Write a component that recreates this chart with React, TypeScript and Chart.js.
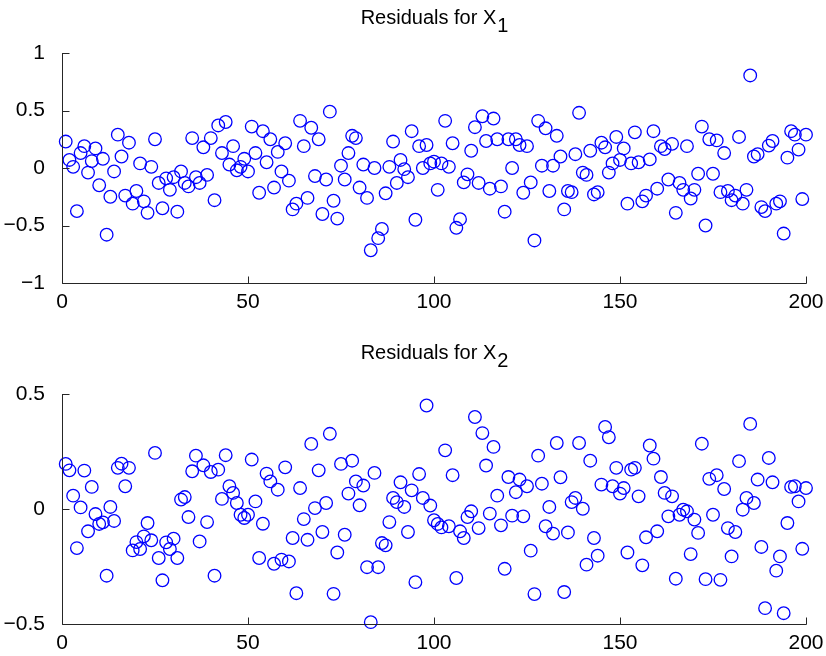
import React, { useEffect, useRef } from "react";
import { Chart, registerables } from "chart.js";
Chart.register(...registerables);

// Observation indices 1..200
const observationIndex: number[] = Array.from({ length: 200 }, (_, i) => i + 1);

const residualsX1: number[] = [
  0.23, 0.07, 0.01, -0.375, 0.13, 0.19, -0.04, 0.06, 0.17, -0.15,
  0.08, -0.58, -0.25, -0.03, 0.29, 0.10, -0.24, 0.22, -0.31, -0.20,
  0.04, -0.29, -0.39, 0.01, 0.25, -0.13, -0.35, -0.09, -0.19, -0.08,
  -0.38, -0.03, -0.13, -0.16, 0.26, -0.08, -0.13, 0.18, -0.06, 0.26,
  -0.28, 0.37, 0.13, 0.40, 0.03, 0.19, -0.02, 0.01, 0.08, -0.03,
  0.36, 0.13, -0.215, 0.32, 0.05, 0.25, -0.17, 0.14, -0.03, 0.215,
  -0.11, -0.36, -0.31, 0.41, 0.19, -0.26, 0.35, -0.07, 0.25, -0.40,
  -0.10, 0.49, -0.285, -0.44, 0.02, -0.10, 0.13, 0.28, 0.26, -0.17,
  0.03, -0.26, -0.715, 0.0, -0.61, -0.53, -0.22, 0.01, 0.23, -0.13,
  0.07, -0.01, -0.08, 0.32, -0.45, 0.19, 0.0, 0.20, 0.04, 0.055,
  -0.19, 0.04, 0.41, 0.01, 0.215, -0.52, -0.445, -0.125, -0.055, 0.15,
  0.355, -0.13, 0.45, 0.235, -0.18, 0.43, 0.25, -0.16, -0.38, 0.25,
  0.0, 0.25, 0.2, -0.215, 0.19, -0.125, -0.63, 0.41, 0.02, 0.345,
  -0.2, 0.02, 0.28, 0.1, -0.36, -0.2, -0.21, 0.12, 0.48, -0.04,
  -0.06, 0.15, -0.23, -0.21, 0.22, 0.18, -0.04, 0.04, 0.27, 0.07,
  0.17, -0.31, 0.04, 0.31, 0.05, -0.29, -0.24, 0.075, 0.32, -0.18,
  0.19, 0.165, -0.10, 0.21, -0.39, -0.13, -0.19, 0.19, -0.265, -0.19,
  -0.05, 0.36, -0.50, 0.25, -0.05, 0.24, -0.21, 0.13, -0.2, -0.28,
  -0.24, 0.27, -0.31, -0.19, 0.805, 0.10, 0.12, -0.34, -0.375, 0.195,
  0.235, -0.31, -0.29, -0.57, 0.09, 0.32, 0.29, 0.16, -0.27, 0.29,
];

const residualsX2: number[] = [
  0.196, 0.168, 0.058, -0.17, 0.007, 0.167, -0.097, 0.096, -0.022, -0.065,
  -0.058, -0.29, 0.009, -0.052, 0.179, 0.197, 0.099, 0.179, -0.18, -0.144,
  -0.174, -0.119, -0.061, -0.136, 0.244, -0.213, -0.31, -0.145, -0.174, -0.129,
  -0.213, 0.041, 0.052, -0.035, 0.164, 0.232, -0.141, 0.19, -0.057, 0.161,
  -0.29, 0.171, 0.044, 0.234, 0.099, 0.07, 0.026, -0.025, -0.039, -0.025,
  0.215, 0.033, -0.213, -0.064, 0.154, 0.12, -0.238, 0.084, -0.22, 0.181,
  -0.228, -0.126, -0.366, 0.091, -0.044, -0.134, 0.283, 0.004, 0.168, -0.1,
  0.026, 0.327, -0.369, -0.189, 0.196, -0.112, 0.067, 0.21, 0.12, 0.016,
  0.102, -0.253, -0.492, 0.157, -0.253, -0.148, -0.158, -0.057, 0.048, 0.03,
  0.116, 0.009, -0.1, 0.081, -0.318, 0.152, 0.048, 0.45, 0.015, -0.049,
  -0.065, -0.08, 0.255, -0.075, 0.147, -0.30, -0.097, -0.126, -0.035, -0.01,
  0.40, -0.083, 0.33, 0.189, -0.02, 0.27, 0.058, -0.071, -0.26, 0.139,
  -0.029, 0.073, 0.128, -0.032, 0.099, -0.181, -0.37, 0.232, 0.11, -0.075,
  0.009, -0.107, 0.287, 0.138, -0.361, -0.102, 0.03, 0.048, 0.287, 0.001,
  -0.242, 0.21, -0.126, -0.203, 0.106, 0.357, 0.312, 0.099, 0.179, 0.067,
  0.091, -0.189, 0.171, 0.179, 0.055, -0.245, -0.123, 0.276, 0.219, -0.097,
  0.139, 0.07, -0.032, 0.055, -0.303, -0.025, -0.003, -0.01, -0.196, -0.046,
  -0.104, 0.284, -0.305, 0.131, -0.025, 0.147, -0.308, 0.087, -0.083, -0.206,
  -0.1, 0.208, -0.003, 0.048, 0.37, 0.026, 0.128, -0.165, -0.431, 0.222,
  0.116, -0.268, -0.206, -0.453, -0.061, 0.096, 0.099, 0.033, -0.173, 0.091,
];

const xTicks: number[] = [0, 50, 100, 150, 200];
const yTicksTop: number[] = [-1, -0.5, 0, 0.5, 1];
const yTicksBottom: number[] = [-0.5, 0, 0.5];

const FONT = "'Liberation Sans', Arial, Helvetica, sans-serif";
const AXIS_COLOR = "#262626";

const fmt = (v: number) => {
  const s = String(Math.abs(v));
  return v < 0 ? "\u2212" + s : s;
};

const matlabAxes = {
  id: "matlabAxes",
  afterDraw(chart: any, _args: any, opts: any) {
    const { ctx, chartArea: a, scales } = chart;
    const x = scales.x;
    const y = scales.y;
    ctx.save();
    ctx.strokeStyle = AXIS_COLOR;
    ctx.lineWidth = 1;
    ctx.beginPath();
    const L = Math.round(a.left) + 0.5;
    const B = Math.round(a.bottom) + 0.5;
    ctx.moveTo(L, Math.round(a.top));
    ctx.lineTo(L, B);
    ctx.lineTo(Math.round(a.right) + 0.5, B);
    x.ticks.forEach((t: any) => {
      const px = Math.round(x.getPixelForValue(t.value)) + 0.5;
      ctx.moveTo(px, B);
      ctx.lineTo(px, B - 7);
    });
    y.ticks.forEach((t: any) => {
      const py = Math.round(y.getPixelForValue(t.value)) + 0.5;
      ctx.moveTo(L, py);
      ctx.lineTo(L + 7, py);
    });
    ctx.stroke();

    // Title with subscript
    ctx.fillStyle = "#000";
    ctx.font = `${opts.size}px ${FONT}`;
    ctx.textBaseline = "middle";
    ctx.textAlign = "left";
    const wMain = ctx.measureText(opts.main).width;
    const wSub = ctx.measureText(opts.sub).width;
    const cx = (a.left + a.right) / 2;
    const ty = a.top - opts.offset;
    const x0 = cx - (wMain + wSub) / 2;
    ctx.fillText(opts.main, x0, ty);
    ctx.fillText(opts.sub, x0 + wMain + 1, ty + 8);
    ctx.restore();
  },
};

function makeConfig(
  values: number[],
  yTicks: number[],
  yMin: number,
  yMax: number,
  pad: { top: number; right: number },
  xAxisHeight: number,
  sub: string,
  titleOffset: number
): any {
  return {
    type: "scatter",
    data: {
      datasets: [
        {
          data: observationIndex.map((xi, i) => ({ x: xi, y: values[i] })),
          pointStyle: "circle",
          pointRadius: 6.3,
          pointHoverRadius: 6.3,
          borderWidth: 1.3,
          borderColor: "#0000ff",
          backgroundColor: "rgba(0,0,0,0)",
          clip: false,
        },
      ],
    },
    options: {
      animation: false,
      responsive: false,
      events: [],
      layout: { padding: { top: pad.top, right: pad.right, left: 0, bottom: 0 } },
      plugins: {
        legend: { display: false },
        title: { display: false },
        tooltip: { enabled: false },
        matlabAxes: { main: "Residuals for X", sub, size: 20, offset: titleOffset },
      },
      scales: {
        x: {
          type: "linear",
          min: 0,
          max: 200,
          grid: { display: false },
          border: { display: false },
          afterBuildTicks: (s: any) => {
            s.ticks = xTicks.map((v) => ({ value: v }));
          },
          afterFit: (s: any) => {
            s.height = xAxisHeight;
          },
          ticks: {
            color: "#000",
            font: { family: FONT, size: 21 },
            padding: -1,
            maxRotation: 0,
            autoSkip: false,
            callback: (v: any) => fmt(Number(v)),
          },
        },
        y: {
          type: "linear",
          min: yMin,
          max: yMax,
          grid: { display: false },
          border: { display: false },
          afterBuildTicks: (s: any) => {
            s.ticks = yTicks.map((v) => ({ value: v }));
          },
          afterFit: (s: any) => {
            s.width = 62;
          },
          ticks: {
            color: "#000",
            font: { family: FONT, size: 21 },
            padding: 9,
            autoSkip: false,
            callback: (v: any) => fmt(Number(v)),
          },
        },
      },
    },
    plugins: [matlabAxes],
  };
}

function Panel(props: {
  values: number[];
  yTicks: number[];
  yMin: number;
  yMax: number;
  top: number;
  height: number;
  padTop: number;
  xAxisHeight: number;
  sub: string;
  titleOffset: number;
}) {
  const ref = useRef<HTMLCanvasElement | null>(null);
  useEffect(() => {
    if (!ref.current) return;
    const chart = new Chart(
      ref.current,
      makeConfig(
        props.values,
        props.yTicks,
        props.yMin,
        props.yMax,
        { top: props.padTop, right: 20 },
        props.xAxisHeight,
        props.sub,
        props.titleOffset
      )
    );
    return () => chart.destroy();
  }, []);
  return (
    <canvas
      ref={ref}
      width={826}
      height={props.height}
      style={{ position: "absolute", left: 0, top: props.top, width: 826, height: props.height }}
    />
  );
}

export default function App() {
  return (
    <div
      style={{
        position: "fixed",
        left: 0,
        top: 0,
        width: 826,
        height: 656,
        background: "#fff",
        overflow: "hidden",
      }}
    >
      <Panel
        values={residualsX1}
        yTicks={yTicksTop}
        yMin={-1}
        yMax={1}
        top={0}
        height={328}
        padTop={53}
        xAxisHeight={45}
        sub="1"
        titleOffset={35}
      />
      <Panel
        values={residualsX2}
        yTicks={yTicksBottom}
        yMin={-0.5}
        yMax={0.5}
        top={328}
        height={328}
        padTop={66}
        xAxisHeight={32}
        sub="2"
        titleOffset={41}
      />
    </div>
  );
}
